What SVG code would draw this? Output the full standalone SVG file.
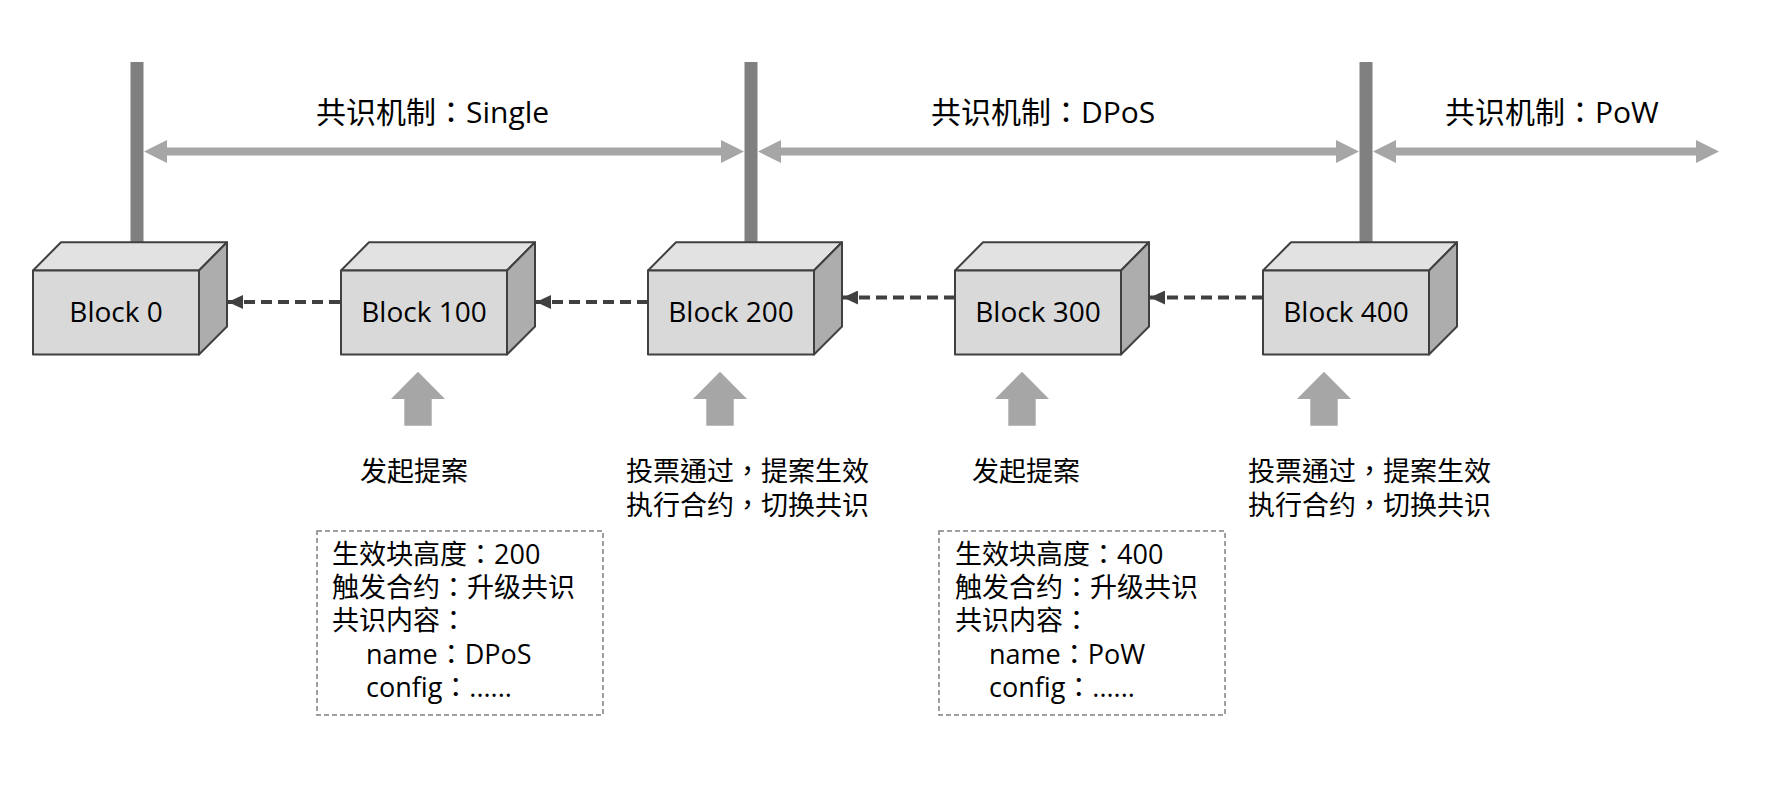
<svg xmlns="http://www.w3.org/2000/svg" width="1776" height="792" viewBox="0 0 1776 792">
<style>
text{font-family:"Open Sans","Noto Sans CJK TC",sans-serif;fill:#000}
.t{font-size:30px}
.b{font-size:28px;text-anchor:middle}
.l{font-size:27px}
.front{fill:#d9d9d9;stroke:#404040;stroke-width:2;stroke-linejoin:round}
.top{fill:#e2e2e2;stroke:#404040;stroke-width:2;stroke-linejoin:round}
.side{fill:#adadad;stroke:#404040;stroke-width:2;stroke-linejoin:round}
.bar{fill:#808080}
.ga{fill:#a6a6a6}
.dash{stroke:#404040;stroke-width:4;stroke-dasharray:11 6;fill:none}
.box{fill:none;stroke:#808080;stroke-width:1.5;stroke-dasharray:5 3}
</style>
<defs>
<marker id="ah" markerUnits="userSpaceOnUse" markerWidth="16" markerHeight="14" refX="15" refY="7" orient="auto">
<path d="M0,0 L15,7 L0,14 Z" fill="#404040"/>
</marker>
</defs>
<rect width="1776" height="792" fill="#fff"/>

<g id="bars">
<rect class="bar" x="130.5" y="62" width="13" height="180.5"/>
<rect class="bar" x="744.5" y="62" width="13" height="180.5"/>
<rect class="bar" x="1359.5" y="62" width="13" height="180.5"/>
</g>

<g id="eras">
<polygon class="ga" points="144,151.5 167,140 167,147.5 721,147.5 721,140 744,151.5 721,163 721,155.5 167,155.5 167,163"/>
<polygon class="ga" points="758,151.5 781,140 781,147.5 1336,147.5 1336,140 1359,151.5 1336,163 1336,155.5 781,155.5 781,163"/>
<polygon class="ga" points="1373,151.5 1396,140 1396,147.5 1696,147.5 1696,140 1719,151.5 1696,163 1696,155.5 1396,155.5 1396,163"/>
<text class="t" x="316" y="123">共识机制：Single</text>
<text class="t" x="931" y="123">共识机制：DPoS</text>
<text class="t" x="1445" y="123">共识机制：PoW</text>
</g>

<g id="connectors">
<line class="dash" x1="340" y1="302" x2="228" y2="302" marker-end="url(#ah)"/>
<line class="dash" x1="648" y1="302" x2="536" y2="302" marker-end="url(#ah)"/>
<line class="dash" x1="955" y1="297.5" x2="843" y2="297.5" marker-end="url(#ah)"/>
<line class="dash" x1="1263" y1="297.5" x2="1150" y2="297.5" marker-end="url(#ah)"/>
</g>

<g id="block0">
<polygon class="top" points="33,270.5 61,242.3 227,242.3 199,270.5"/>
<polygon class="side" points="199,270.5 227,242.3 227,326.5 199,354.5"/>
<rect class="front" x="33" y="270.5" width="166" height="84"/>
<text class="b" x="116" y="322">Block 0</text>
</g>
<g id="block100">
<polygon class="top" points="341,270.5 369,242.3 535,242.3 507,270.5"/>
<polygon class="side" points="507,270.5 535,242.3 535,326.5 507,354.5"/>
<rect class="front" x="341" y="270.5" width="166" height="84"/>
<text class="b" x="424" y="322">Block 100</text>
</g>
<g id="block200">
<polygon class="top" points="648,270.5 676,242.3 842,242.3 814,270.5"/>
<polygon class="side" points="814,270.5 842,242.3 842,326.5 814,354.5"/>
<rect class="front" x="648" y="270.5" width="166" height="84"/>
<text class="b" x="731" y="322">Block 200</text>
</g>
<g id="block300">
<polygon class="top" points="955,270.5 983,242.3 1149,242.3 1121,270.5"/>
<polygon class="side" points="1121,270.5 1149,242.3 1149,326.5 1121,354.5"/>
<rect class="front" x="955" y="270.5" width="166" height="84"/>
<text class="b" x="1038" y="322">Block 300</text>
</g>
<g id="block400">
<polygon class="top" points="1263,270.5 1291,242.3 1457,242.3 1429,270.5"/>
<polygon class="side" points="1429,270.5 1457,242.3 1457,326.5 1429,354.5"/>
<rect class="front" x="1263" y="270.5" width="166" height="84"/>
<text class="b" x="1346" y="322">Block 400</text>
</g>

<g id="up1">
<polygon class="ga" points="418,371.7 445,399 431.7,399 431.7,425.7 404.3,425.7 404.3,399 391,399"/>
<text class="l" x="360" y="481">发起提案</text>
</g>
<g id="up2">
<polygon class="ga" points="720,371.7 747,399 733.7,399 733.7,425.7 706.3,425.7 706.3,399 693,399"/>
<text class="l" x="626" y="481">投票通过，提案生效</text>
<text class="l" x="626" y="515">执行合约，切换共识</text>
</g>
<g id="up3">
<polygon class="ga" points="1022,371.7 1049,399 1035.7,399 1035.7,425.7 1008.3,425.7 1008.3,399 995,399"/>
<text class="l" x="972" y="481">发起提案</text>
</g>
<g id="up4">
<polygon class="ga" points="1324,371.7 1351,399 1337.7,399 1337.7,425.7 1310.3,425.7 1310.3,399 1297,399"/>
<text class="l" x="1248" y="481">投票通过，提案生效</text>
<text class="l" x="1248" y="515">执行合约，切换共识</text>
</g>

<g id="proposal1">
<rect class="box" x="317" y="531" width="286" height="184"/>
<text class="l" x="332" y="564">生效块高度：200</text>
<text class="l" x="332" y="597">触发合约：升级共识</text>
<text class="l" x="332" y="630">共识内容：</text>
<text class="l" x="366" y="664">name：DPoS</text>
<text class="l" x="366" y="697">config：......</text>
</g>
<g id="proposal2">
<rect class="box" x="939" y="531" width="286" height="184"/>
<text class="l" x="955" y="564">生效块高度：400</text>
<text class="l" x="955" y="597">触发合约：升级共识</text>
<text class="l" x="955" y="630">共识内容：</text>
<text class="l" x="989" y="664">name：PoW</text>
<text class="l" x="989" y="697">config：......</text>
</g>
</svg>
